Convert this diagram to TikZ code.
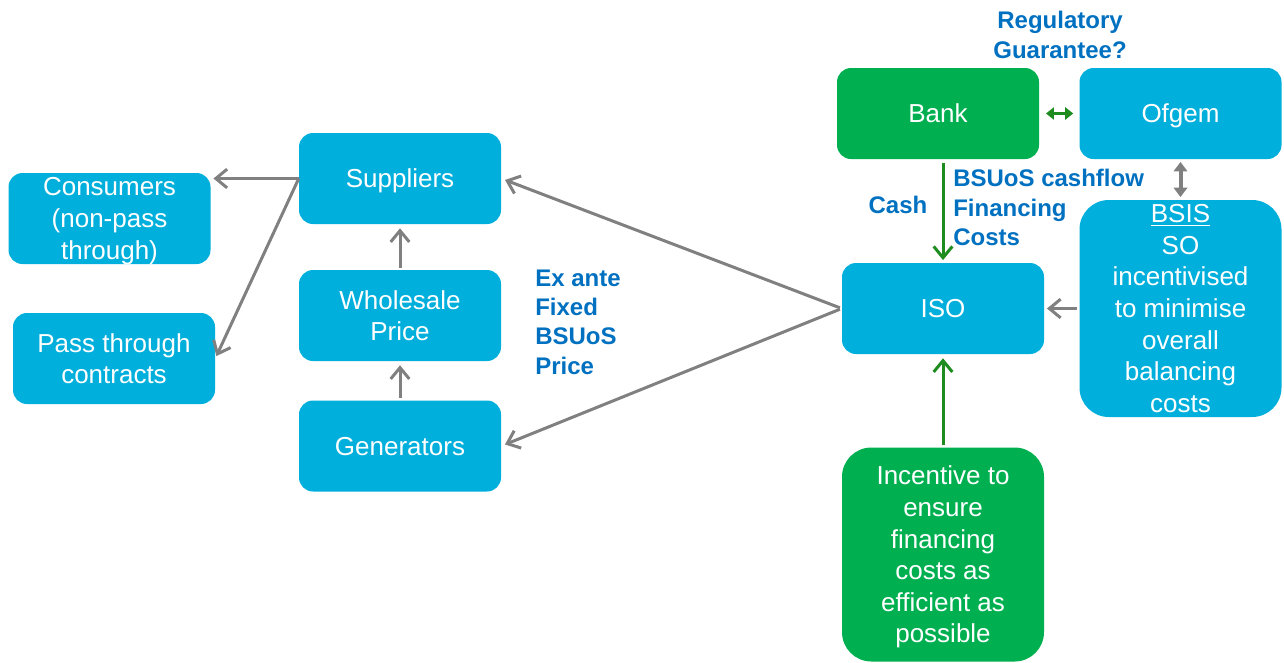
\documentclass[tikz,border=0pt]{standalone}
\usepackage{fontspec}
\setmainfont{Liberation Sans}
\usetikzlibrary{arrows.meta}
\definecolor{boxblue}{RGB}{0,175,219}
\definecolor{boxgreen}{RGB}{0,176,80}
\definecolor{arrgreen}{RGB}{30,140,30}
\definecolor{arrgrey}{RGB}{128,128,128}
\definecolor{lblblue}{RGB}{0,112,192}
\tikzset{
  box/.style={fill=boxblue, text=white, rounded corners=10.5pt, minimum width=151.5pt,
    minimum height=68.25pt, align=center, inner sep=0pt, text depth=-2pt,
    font=\fontsize{19.5}{23.7}\selectfont},
  greenbox/.style={box, fill=boxgreen},
  lbl/.style={text=lblblue, inner sep=0pt, font=\bfseries\fontsize{18}{22}\selectfont},
  greyarrow/.style={draw=arrgrey, line width=2.25pt, -{Straight Barb[length=8.5pt,width=14pt]}},
  greenarrow/.style={draw=arrgreen, line width=2.25pt, -{Straight Barb[length=8.5pt,width=14pt]}},
}
\begin{document}
\begin{tikzpicture}[x=0.75pt,y=-0.75pt]
  \useasboundingbox (0,0) rectangle (1284,662);

  % left column
  \node[box] (con) at (109.5,218.5) {Consumers\\(non-pass\\through)};
  \node[box] (pass) at (114,358.5) {Pass through\\contracts};
  \node[box] (sup) at (400,178.5) {Suppliers};
  \node[box] (whole) at (400,315.5) {Wholesale\\Price};
  \node[box] (gen) at (400,446) {Generators};

  % right side
  \node[greenbox] (bank) at (938,113.5) {Bank};
  \node[box] (ofgem) at (1180.5,113.5) {Ofgem};
  \node[box] (iso) at (943,308.5) {ISO};
  \node[box, minimum height=162.75pt, rounded corners=22pt] (bsis) at (1180.5,308.5)
    {\underline{BSIS}\\SO\\incentivised\\to minimise\\overall\\balancing\\costs};
  \node[greenbox, minimum height=160.5pt, rounded corners=22pt] (inc) at (943,554.5)
    {Incentive to\\ensure\\financing\\costs as\\efficient as\\possible};

  \node[lbl, align=center] (reg) at (1060,35) {Regulatory\\Guarantee?};
  \node[lbl] (cash) at (898,205) {Cash};
  \node[lbl, align=left, anchor=west] (fin) at (953,207.5) {BSUoS cashflow\\Financing\\Costs};
  \node[lbl, align=left, anchor=west] (fixed) at (535,322) {Ex ante\\Fixed\\BSUoS\\Price};

  % connectors
  \draw[greyarrow, shorten >=2pt] (sup.west) -- (sup.west -| con.east);
  \draw[greyarrow, shorten >=2pt] (sup.west) -- (pass.east);
  \draw[greyarrow, shorten <=1.5pt, shorten >=3pt] (whole.north) -- (sup.south);
  \draw[greyarrow, shorten <=1.5pt, shorten >=3pt] (gen.north) -- (whole.south);
  \draw[greyarrow, shorten <=1.5pt, shorten >=3pt] (iso.west) -- (sup.east);
  \draw[greyarrow, shorten <=1.5pt, shorten >=3pt] (iso.west) -- (gen.east);
  \draw[greyarrow, shorten <=1.5pt, shorten >=2pt] (bsis.west) -- (iso.east);
  \draw[draw=arrgrey, line width=3pt, {Triangle[length=7pt,width=10pt]}-{Triangle[length=7pt,width=10pt]},
    shorten <=2pt, shorten >=2pt] (ofgem.south) -- (bsis.north);
  \draw[greenarrow, shorten <=3pt, shorten >=2pt] (bank.south -| iso.north) -- (iso.north);
  \draw[greenarrow, shorten <=1.5pt, shorten >=3pt] (inc.north) -- (iso.south);
  \draw[draw=arrgreen, line width=2pt, {Triangle[length=6pt,width=9pt]}-{Triangle[length=6pt,width=9pt]},
    shorten <=5pt, shorten >=4.5pt] (bank.east) -- (ofgem.west);
\end{tikzpicture}
\end{document}
